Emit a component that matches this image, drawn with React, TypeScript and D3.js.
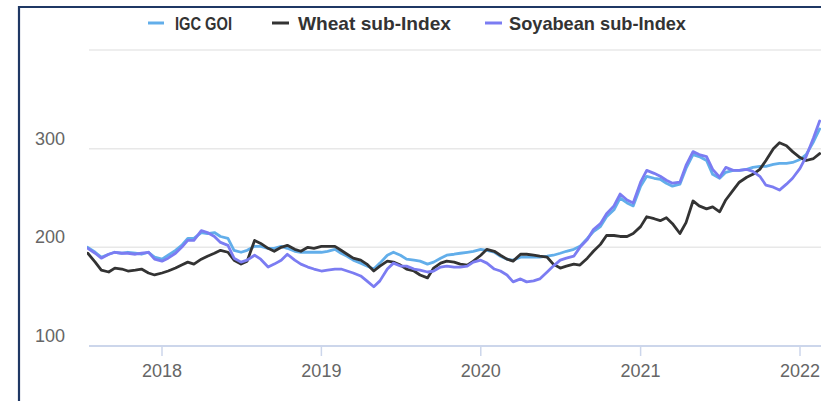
import React from "react";
import * as d3 from "d3";

// ---------- data (semi-monthly observations, first date 2017-07-15) ----------
const startYear = 2017;
const startMonth = 6; // July (0-based)
const goiValues = [
  200,195,190,193,195,194,195,194,193,195,
  190,188,192,197,202,209,209,215,214,215,
  211,209,197,195,197,201,201,199,199,201,
  199,196,195,195,195,195,196,198,194,191,
  187,184,181,178,184,192,195,192,188,187,
  186,183,185,189,192,193,194,195,196,198,
  197,195,191,188,187,190,190,190,190,191,
  192,194,196,198,201,209,216,221,231,238,
  250,245,242,262,272,270,269,265,262,264,
  280,294,292,288,274,270,276,278,278,279,
  281,282,282,284,285,285,286,289,294,307,
  320,
];
const wheatValues = [
  194,185,177,175,179,178,176,177,178,174,
  172,174,176,179,182,185,183,188,191,194,
  197,195,187,183,186,207,204,199,196,200,
  202,198,196,200,199,201,201,201,197,193,
  189,187,183,176,181,186,185,182,178,176,
  172,169,179,184,186,185,183,182,186,192,
  198,196,192,188,186,193,193,192,191,190,
  183,179,181,183,182,189,196,203,212,212,
  211,211,214,221,231,229,227,230,224,214,
  225,247,242,239,241,236,248,258,266,271,
  274,279,288,300,306,303,297,291,288,290,
  295,
];
const soyValues = [
  199,194,189,193,195,194,194,193,194,195,
  188,186,189,194,200,207,207,217,215,211,
  205,202,189,185,187,192,188,180,183,187,
  193,187,183,180,178,176,177,178,178,176,
  174,171,166,160,166,178,184,181,181,178,
  177,175,176,180,181,180,180,181,185,187,
  184,178,176,172,165,168,165,166,168,175,
  181,187,189,191,200,208,218,224,234,242,
  254,248,245,266,278,275,272,268,265,266,
  283,297,294,292,279,271,281,278,278,279,
  277,272,263,261,258,264,270,280,292,311,
  328,
];
const seriesNames = ["IGC GOI", "Wheat sub-Index", "Soyabean sub-Index"];
const seriesColors = ["#62aeea", "#333333", "#7b7cf2"];
const yTicks = [100, 200, 300, 400];
const yTickLabels = ["100", "200", "300", ""];
const xTickYears = [2018, 2019, 2020, 2021, 2022];

const dates: Date[] = goiValues.map((_, i) => {
  const offset = Math.floor((i + 1) / 2);
  const day = i % 2 === 0 ? 15 : 1;
  return new Date(startYear, startMonth + offset, day);
});

const W = 821;
const H = 401;
const plotLeft = 89;
const plotRight = 821;
const font = "'Liberation Sans', Arial, sans-serif";

export default function App() {
  const x = d3
    .scaleTime()
    .domain([new Date(2018, 0, 1), new Date(2022, 0, 1)])
    .range([162, 800]);
  const y = d3.scaleLinear().domain([100, 400]).range([346, 50]);

  const allSeries = [goiValues, wheatValues, soyValues];
  const line = d3
    .line<number>()
    .x((_, i) => x(dates[i]))
    .y((v) => y(v));

  const legendItems = [
    { x1: 148, x2: 164, tx: 175, w: 57 },
    { x1: 272, x2: 289, tx: 298, w: 153 },
    { x1: 485, x2: 502, tx: 509, w: 177 },
  ];

  return (
    <div style={{ position: "absolute", left: 0, top: 0 }}>
      <svg width={W} height={H} style={{ display: "block", background: "#fff" }}>
        <defs>
          <clipPath id="plotclip">
            <rect x={plotLeft - 2} y={0} width={plotRight - plotLeft + 2} height={H} />
          </clipPath>
        </defs>
        {/* border */}
        <line x1={19} y1={6} x2={19} y2={H} stroke="#1f3864" strokeWidth={2.2} />
        <line x1={18} y1={7} x2={W} y2={7} stroke="#1f3864" strokeWidth={2.2} />

        {/* grid */}
        {yTicks.slice(1).map((t) => (
          <line key={t} x1={plotLeft} x2={plotRight} y1={y(t)} y2={y(t)} stroke="#e8e8e8" strokeWidth={1.5} />
        ))}
        {/* y labels */}
        {yTicks.map((t, i) => (
          <text key={t} x={65} y={y(t) - 4} textAnchor="end" fill="#666" fontSize={18} fontFamily={font}>
            {yTickLabels[i]}
          </text>
        ))}
        {/* x axis */}
        <line x1={plotLeft} x2={plotRight} y1={y(100)} y2={y(100)} stroke="#ccd6eb" strokeWidth={2} />
        {xTickYears.map((yr) => {
          const xx = x(new Date(yr, 0, 1));
          return (
            <g key={yr}>
              <line x1={xx} x2={xx} y1={y(100)} y2={y(100) + 10} stroke="#ccd6eb" strokeWidth={1.5} />
              <text x={xx} y={377} textAnchor="middle" fill="#666" fontSize={18} fontFamily={font}>
                {yr}
              </text>
            </g>
          );
        })}

        {/* series */}
        <g clipPath="url(#plotclip)">
          {allSeries.map((vals, si) => (
            <path
              key={si}
              d={line(vals) || ""}
              fill="none"
              stroke={seriesColors[si]}
              strokeWidth={2.8}
              strokeLinejoin="round"
              strokeLinecap="round"
            />
          ))}
        </g>

        {/* legend */}
        {seriesNames.map((name, i) => (
          <g key={name}>
            <line
              x1={legendItems[i].x1}
              x2={legendItems[i].x2}
              y1={23}
              y2={23}
              stroke={seriesColors[i]}
              strokeWidth={3}
            />
            <text
              x={legendItems[i].tx}
              y={30}
              fill="#333"
              fontSize={19}
              fontWeight="bold"
              fontFamily={font}
              textLength={legendItems[i].w}
              lengthAdjust="spacingAndGlyphs"
            >
              {name}
            </text>
          </g>
        ))}
      </svg>
    </div>
  );
}
